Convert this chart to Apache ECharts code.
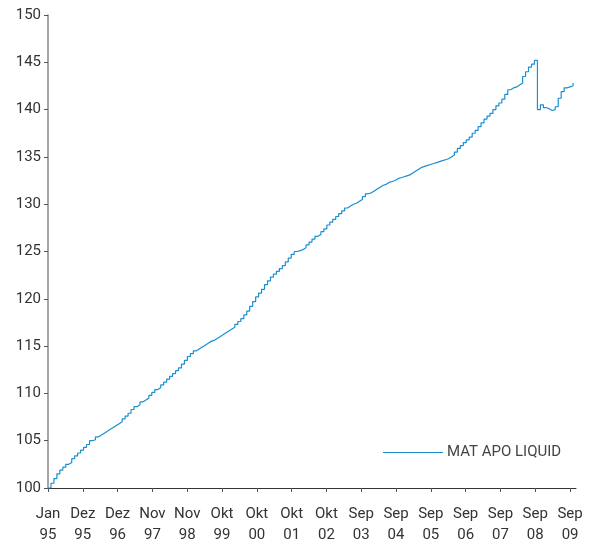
<!DOCTYPE html>
<html lang="de">
<head>
    <meta charset="UTF-8">
    <title>MAT APO LIQUID</title>
    <script src="https://cdn.jsdelivr.net/npm/echarts@6/dist/echarts.min.js"></script>
    <style>
        html, body { margin: 0; padding: 0; background: #fff; }
        #main { width: 589px; height: 540px; }
    </style>
</head>
<body>
<div id="main"></div>
<script>
    // Monatswerte ab Jan 95 (Index 0)
    var v1995 = [100.0, 100.5, 101.0, 101.5, 101.9, 102.2, 102.5, 102.7, 103.1, 103.4, 103.7, 104.0];
    var v1996 = [104.3, 104.6, 105.0, 105.1, 105.4, 105.6, 105.8, 106.0, 106.2, 106.4, 106.6, 106.8];
    var v1997 = [107.0, 107.3, 107.6, 107.9, 108.3, 108.6, 108.8, 109.1, 109.3, 109.5, 109.8, 110.1];
    var v1998 = [110.4, 110.6, 110.9, 111.2, 111.5, 111.8, 112.1, 112.4, 112.7, 113.1, 113.5, 113.9];
    var v1999 = [114.2, 114.5, 114.7, 114.9, 115.1, 115.3, 115.5, 115.6, 115.8, 116.0, 116.2, 116.4];
    var v2000 = [116.6, 116.8, 117.0, 117.3, 117.6, 117.9, 118.3, 118.7, 119.2, 119.7, 120.2, 120.6];
    var v2001 = [121.0, 121.5, 121.9, 122.3, 122.6, 122.9, 123.2, 123.5, 123.9, 124.3, 124.7, 125.0];
    var v2002 = [125.1, 125.2, 125.4, 125.7, 126.0, 126.3, 126.6, 126.8, 127.1, 127.4, 127.8, 128.1];
    var v2003 = [128.4, 128.7, 129.0, 129.3, 129.6, 129.8, 130.0, 130.1, 130.3, 130.5, 130.8, 131.1];
    var v2004 = [131.2, 131.4, 131.6, 131.8, 132.0, 132.1, 132.3, 132.4, 132.5, 132.7, 132.8, 132.9];
    var v2005 = [133.0, 133.1, 133.3, 133.5, 133.7, 133.9, 134.0, 134.1, 134.2, 134.3, 134.4, 134.5];
    var v2006 = [134.6, 134.7, 134.8, 135.0, 135.2, 135.5, 135.9, 136.2, 136.5, 136.8, 137.1, 137.5];
    var v2007 = [137.8, 138.2, 138.6, 139.0, 139.3, 139.6, 140.0, 140.4, 140.7, 141.1, 141.6, 142.1];
    var v2008 = [142.3, 142.4, 142.6, 142.8, 143.5, 144.0, 144.5, 144.8, 145.2, 140.0, 140.5, 140.2];
    var v2009 = [140.1, 139.9, 140.0, 140.3, 141.2, 141.9, 142.3, 142.4, 142.5, 142.8];

    var tickLabels = ["Jan\n95", "Dez\n95", "Dez\n96", "Nov\n97", "Nov\n98", "Okt\n99", "Okt\n00", "Okt\n01",
        "Okt\n02", "Sep\n03", "Sep\n04", "Sep\n05", "Sep\n06", "Sep\n07", "Sep\n08", "Sep\n09"];

    var seriesName = "MAT APO LIQUID";

    var values = [].concat(v1995, v1996, v1997, v1998, v1999, v2000, v2001, v2002,
        v2003, v2004, v2005, v2006, v2007, v2008, v2009);
    var data = values.map(function (v, i) { return [i, v]; });

    // Beschriftungen gleichmaessig von Jan 95 (0) bis Sep 09 (176)
    var step = 176 / (tickLabels.length - 1);
    var tickPos = tickLabels.map(function (t, i) { return i * step; });

    var font = "Roboto, 'DejaVu Sans', sans-serif";
    var MyChart = echarts.init(document.getElementById("main"));
    var option = {
        animation: false,
        grid: { left: 48, right: 13, top: 15, bottom: 52, containLabel: false, outerBoundsMode: "none" },
        legend: {
            data: [seriesName],
            left: 383,
            top: 445,
            padding: 0,
            icon: "rect",
            itemWidth: 60,
            itemHeight: 1,
            itemGap: 0,
            textStyle: { fontFamily: font, fontSize: 15, color: "#444", padding: [0, 0, 0, -1] }
        },
        xAxis: {
            type: "value",
            min: 0,
            max: 178,
            splitLine: { show: false },
            axisLine: { show: true, lineStyle: { color: "#333", width: 1 } },
            axisTick: { show: true, customValues: tickPos, length: 4, lineStyle: { color: "#555" } },
            axisLabel: {
                customValues: tickPos,
                margin: 16,
                fontFamily: font,
                fontSize: 15,
                lineHeight: 21,
                color: "#333",
                formatter: function (val) {
                    var i = Math.round(val / step);
                    return tickLabels[i] || "";
                }
            }
        },
        yAxis: {
            type: "value",
            min: 100,
            max: 150,
            interval: 5,
            splitLine: { show: false },
            axisLine: { show: true, lineStyle: { color: "#888", width: 1.5 } },
            axisTick: { show: true, length: 4, lineStyle: { color: "#555" } },
            axisLabel: { margin: 7, fontFamily: font, fontSize: 15, color: "#333" }
        },
        series: [{
            name: seriesName,
            type: "line",
            step: "end",
            data: data,
            showSymbol: false,
            lineStyle: { color: "#1b8fd2", width: 1.2 },
            itemStyle: { color: "#1b8fd2" }
        }]
    };
    MyChart.setOption(option);
</script>
</body>
</html>
